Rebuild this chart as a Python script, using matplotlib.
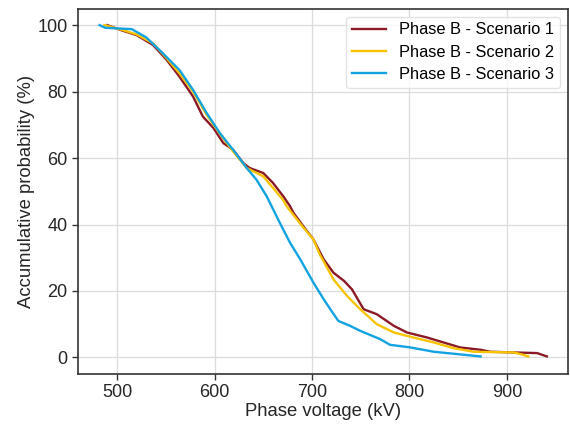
import matplotlib
matplotlib.use("Agg")
import matplotlib.pyplot as plt

plt.rcParams['font.family'] = ['Liberation Sans', 'DejaVu Sans']

# Scenario 1 (dark red)
v1 = [490, 506, 520, 537, 551, 564, 578, 588, 599, 609, 619, 629.5, 636, 650, 660,
      670.5, 677.5, 681, 691, 701.5, 712, 722, 733, 741, 748, 753, 766.5, 784, 797.5, 818,
      835, 852, 873, 883, 907, 931, 941]
p1 = [100, 98.3, 97, 94, 89.5, 84.5, 78.5, 72.5, 69, 64.5, 62.5, 58.5, 57, 55.5, 52.5,
      48.5, 45.5, 43.5, 39.5, 35.5, 29.5, 25.5, 23, 20.5, 17, 14.5, 13, 9.5, 7.5, 6,
      4.5, 3, 2.3, 1.7, 1.5, 1.3, 0.3]

# Scenario 2 (yellow)
v2 = [487, 506, 520, 537, 551, 564, 578, 592, 605, 619, 633, 650, 670, 674, 690,
      701.5, 708, 722, 736, 749.5, 766.5, 784, 804, 825, 845, 866, 907, 914, 922]
p2 = [100, 98.5, 97.2, 94.5, 90, 85.5, 80, 73, 67.5, 62, 57, 54.5, 47.5, 45.5, 39.5,
      35.5, 31, 23.5, 18.5, 14.5, 10, 7.5, 6, 4.5, 2.8, 1.7, 1.5, 1, 0.3]

# Scenario 3 (blue)
v3 = [482, 488, 515, 530, 547, 564, 578, 592, 605.5, 619, 633, 643, 653.5, 667,
      677.5, 688, 701.5, 712, 720, 727, 739, 749.5, 770, 780, 801, 825, 849, 873]
p3 = [100, 99.2, 98.8, 96.3, 91.5, 86.5, 80.5, 73.5, 67.5, 62.5, 57, 53.5, 48.5, 40.5,
      34.5, 29.5, 22.5, 17.5, 14, 11, 9.5, 8, 5.5, 3.8, 3, 1.7, 1, 0.3]

fig = plt.figure(figsize=(5.7, 4.26), dpi=100)
ax = fig.add_axes([0.137, 0.122, 0.86, 0.858])

ax.plot(v1, p1, color="#8b1a26", lw=1.7, label="Phase B - Scenario 1")
ax.plot(v2, p2, color="#f5c300", lw=1.7, label="Phase B - Scenario 2")
ax.plot(v3, p3, color="#12a3e0", lw=1.7, label="Phase B - Scenario 3")

ax.set_xlim(460, 963)
ax.set_ylim(-5, 105)
ax.set_xticks([500, 600, 700, 800, 900])
ax.set_yticks([0, 20, 40, 60, 80, 100])
ax.grid(True, color="#dcdcdc", lw=0.9)
ax.set_axisbelow(True)
for s in ax.spines.values():
    s.set_color("#333333")
    s.set_linewidth(1.2)
ax.tick_params(direction="out", length=4, width=1, colors="#333333",
               labelsize=13, labelcolor="#262626")

ax.set_xlabel("Phase voltage (kV)", fontsize=13.3, color="#262626", labelpad=1)
ax.set_ylabel("Accumulative probability (%)", fontsize=13.3, color="#262626", labelpad=2)

leg = ax.legend(loc="upper right", fontsize=11.8, frameon=True, fancybox=True,
                handlelength=2.1, borderpad=0.35, labelspacing=0.45,
                borderaxespad=0.5)
leg.get_frame().set_edgecolor("#dddddd")

fig.savefig("out.png", dpi=100)
